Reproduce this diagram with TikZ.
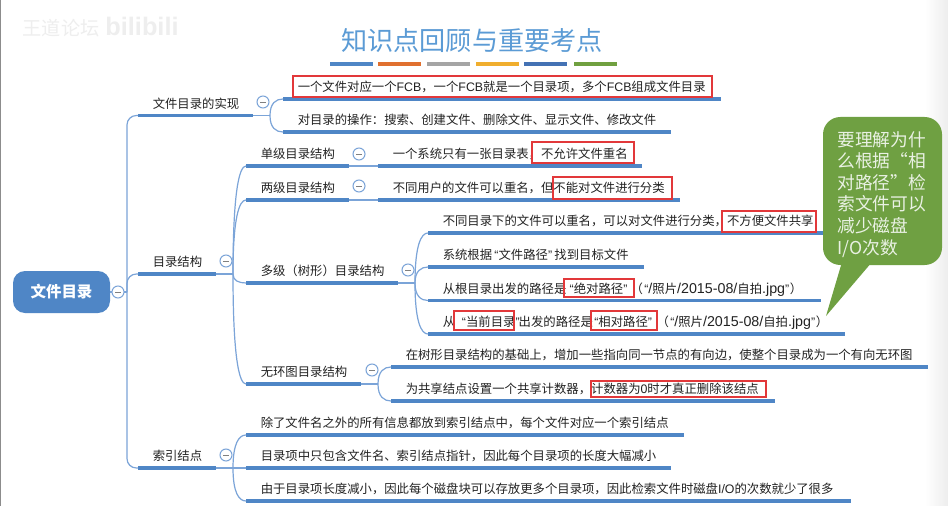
\documentclass[tikz,border=0pt]{standalone}
\usepackage{fontspec}
\setmainfont{Noto Sans CJK SC}
\newfontfamily\latf{Liberation Sans}
\usetikzlibrary{calc}
\definecolor{ubar}{HTML}{4F86C6}
\definecolor{conn}{HTML}{7BA4D8}
\definecolor{rbox}{HTML}{E2383A}
\definecolor{cgreen}{HTML}{6FA042}
\definecolor{ttl}{HTML}{5B9BD5}
\definecolor{ink}{HTML}{222222}
\definecolor{wm}{HTML}{EEEEEE}
\tikzset{
  under/.style={line width=2.3pt,ubar},
  connl/.style={line width=0.9pt,conn},
  txt/.style={inner sep=0pt,anchor=west,text height=8pt,text depth=1.5pt,text=ink,font=\fontsize{9.27pt}{11pt}\selectfont},
  toggle/.style={circle,draw=conn,line width=0.8pt,fill=white,minimum size=9pt,inner sep=0pt,
    path picture={\draw[line width=0.7pt,gray] ($(path picture bounding box.center)+(-3,0)$) -- ++(6,0);}},
  redb/.style={draw=rbox,line width=1.4pt},
  bar/.style={line width=3pt}
}
\newcommand\Q[1]{{\latf #1}}
\newcommand\Pth[1]{{\latf\fontsize{10.7pt}{11pt}\selectfont #1}}
\newcommand\qo[1]{\makebox[#1pt][r]{\latf “}}
\newcommand\qc[1]{\makebox[#1pt][l]{\latf ”}}
\newcommand\topic[5]{%
  \coordinate (#1W) at (#2,#4);
  \coordinate (#1E) at (#3,#4);
  \draw[under] (#1W) -- (#1E);
  \node[txt] (#1) at ($(#1W)+(14.5,-11.5)$) {#5};
}
\newcommand\junction[2]{\coordinate (#1J) at ($(#1E)+(#2,0)$); \draw[connl] (#1E) -- (#1J);}
\newcommand\fork[2]{\draw[connl] (#1J) .. controls ($(#1J)!0.75!(#1J|-#2W)$) and ($(#2W)+(-7,0)$) .. (#2W);}
\newcommand\redrect[4]{\draw[redb] (#1,#2) rectangle (#3,#4);}
\begin{document}
\begin{tikzpicture}[x=0.75pt,y=-0.75pt]
\useasboundingbox (0,0) rectangle (948,506);
\fill[white] (0,0) rectangle (948,506);
\shade[left color=white,right color=black!7] (925,0) rectangle (948,506);
\fill[black!45] (0,0) rectangle (1,506);
% watermark
\node[inner sep=0pt,text=wm,font=\fontsize{14.4pt}{15pt}\selectfont] (wmA) at (61,28) {王道论坛};
\node[inner sep=0pt,text=wm,font=\latf\bfseries\fontsize{19pt}{20pt}\selectfont] (wmB) at (142,26) {bilibili};
% title
\node[inner sep=0pt,text=ttl,font=\fontsize{19.6pt}{22pt}\selectfont] (title) at (472,41) {知识点回顾与重要考点};
\foreach \xa/\c in {330/4F86C6,378/E0702F,427/A5A5A5,476/F0AE2E,524/4472B4,574/70A040}{
  \definecolor{tmpc}{HTML}{\c}
  \draw[bar,tmpc] (\xa,64) -- ++(43,0);
}
% topics
\node[fill=ubar,rounded corners=9pt,minimum width=72.75pt,minimum height=31.5pt,inner sep=0pt,text=white,font=\bfseries\fontsize{11.6pt}{13pt}\selectfont] (root) at (61.5,292) {文件目录};
\topic{a}{138}{253}{115.5}{文件目录的实现}
\topic{b}{138}{216}{274}{目录结构}
\topic{c}{138}{216}{468}{索引结点}
\topic{a1}{283}{721}{99}{一个文件对应一个\Q{FCB}，一个\Q{FCB}就是一个目录项，多个\Q{FCB}组成文件目录}
\topic{a2}{283}{671}{132}{对目录的操作：搜索、创建文件、删除文件、显示文件、修改文件}
\topic{b1}{246}{349}{166}{单级目录结构}
\topic{b2}{246}{349}{200}{两级目录结构}
\topic{b3}{246}{398}{283}{多级（树形）目录结构}
\topic{b4}{246}{361}{384}{无环图目录结构}
\topic{b1x}{378}{642}{166}{一个系统只有一张目录表，不允许文件重名}
\topic{b2x}{378}{680}{200}{不同用户的文件可以重名，但不能对文件进行分类}
\topic{p1}{428}{835}{233}{不同目录下的文件可以重名，可以对文件进行分类，不方便文件共享}
\topic{p2}{428}{644}{267}{系统根据\qo{4.8}文件路径\qc{4.8}找到目标文件}
\topic{p3}{428}{821}{300.5}{从根目录出发的路径是\qo{5.6}绝对路径\qc{5.6}（\qo{4}\Pth{/}照片\Pth{/2015-08/}自拍\Pth{.jpg}\qc{3.5}）}
\topic{p4}{428}{845}{334}{从\qo{8.2}当前目录\qc{2.4}出发的路径是\qo{4.2}相对路径\qc{6.6}（\qo{4}\Pth{/}照片\Pth{/2015-08/}自拍\Pth{.jpg}\qc{3.5}）}
\topic{q1}{391}{928}{367}{在树形目录结构的基础上，增加一些指向同一节点的有向边，使整个目录成为一个有向无环图}
\topic{q2}{391}{775}{401}{为共享结点设置一个共享计数器，计数器为\Q{0}时才真正删除该结点}
\topic{c1}{246}{684}{435}{除了文件名之外的所有信息都放到索引结点中，每个文件对应一个索引结点}
\topic{c2}{246}{671}{468}{目录项中只包含文件名、索引结点指针，因此每个目录项的长度大幅减小}
\topic{c3}{246}{851}{501}{由于目录项长度减小，因此每个磁盘块可以存放更多个目录项，因此检索文件时磁盘\Q{I/O}的次数就少了很多}
% connectors
\coordinate (trunk) at (127,292);
\draw[connl] (root.east) -- (trunk);
\foreach \k in {a,b,c}{\draw[connl,rounded corners=7pt] (trunk) |- (\k W);}
\junction{a}{17}\fork{a}{a1}\fork{a}{a2}
\junction{b}{17}\fork{b}{b1}\fork{b}{b2}\fork{b}{b3}\fork{b}{b4}
\junction{c}{17}\fork{c}{c1}\fork{c}{c2}\fork{c}{c3}
\draw[connl] (b1E) -- (b1xW);
\draw[connl] (b2E) -- (b2xW);
\junction{b3}{17}\fork{b3}{p1}\fork{b3}{p2}\fork{b3}{p3}\fork{b3}{p4}
\junction{b4}{17}\fork{b4}{q1}\fork{b4}{q2}
% toggles
\node[toggle] (t0) at (118,292) {};
\node[toggle] (ta) at (263,102) {};
\node[toggle] (tb) at (226,261) {};
\node[toggle] (tc) at (226,455) {};
\node[toggle] (tb1) at (359,154) {};
\node[toggle] (tb2) at (359,186) {};
\node[toggle] (tb3) at (408,270) {};
\node[toggle] (tb4) at (372,370) {};
% red boxes
\redrect{293}{76}{712}{97}
\redrect{532}{142}{634}{163}
\redrect{553}{177}{672}{199}
\redrect{722}{211}{816}{232}
\redrect{564}{279}{634}{297}
\redrect{454}{311}{514}{330}
\redrect{591}{311}{657}{330}
\redrect{591}{381}{766}{397}
% callout
\fill[cgreen,rounded corners=13pt] (823,117) rectangle (942,265);
\fill[cgreen] (842,262) -- (826,316) -- (872,262) -- cycle;
\node[inner sep=0pt,anchor=north west,align=left,text=white!85!cgreen,font=\fontsize{13.3pt}{16.2pt}\selectfont] (note) at (837,131) {要理解为什\\么根据“相\\对路径”检\\索文件可以\\减少磁盘\\I/O次数};
\end{tikzpicture}
\end{document}
